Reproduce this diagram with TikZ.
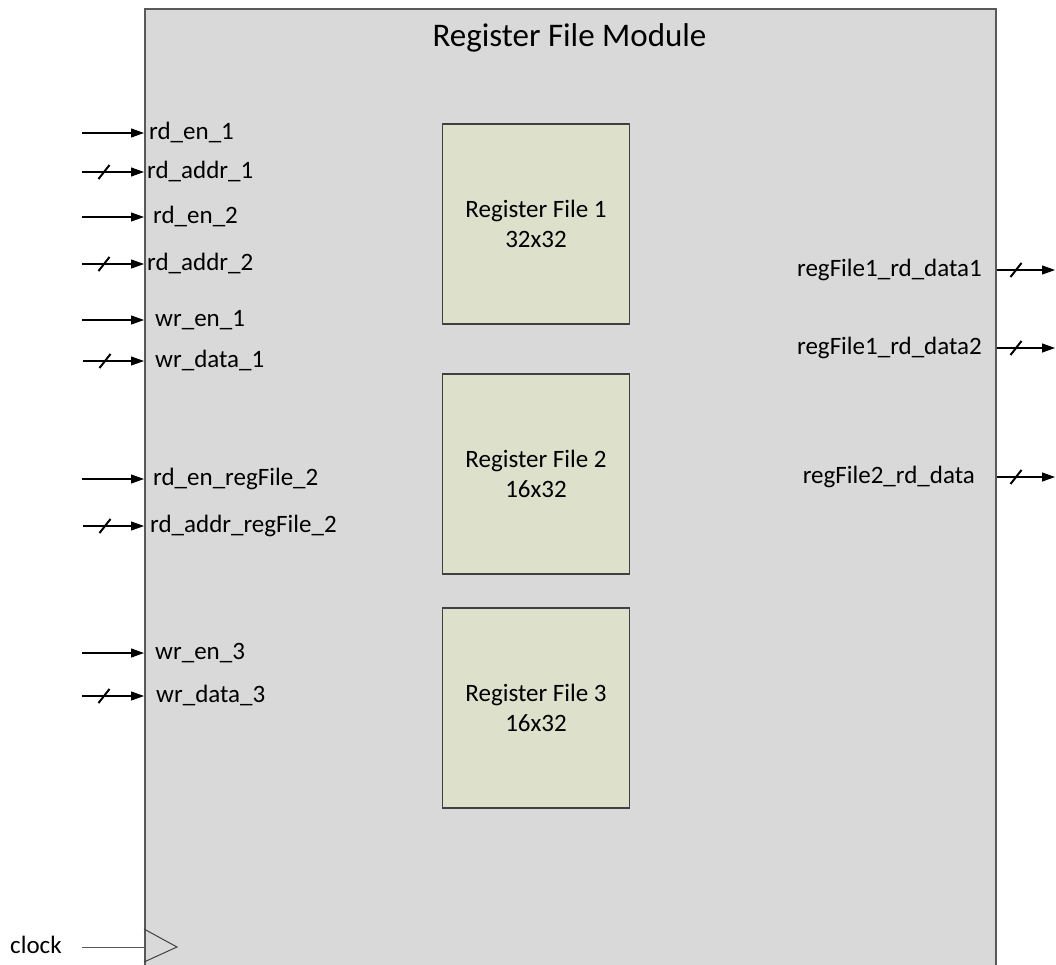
\documentclass[tikz,border=0pt]{standalone}
\usepackage{fontspec}
\setmainfont{Carlito}
\usetikzlibrary{arrows.meta}
\definecolor{modfill}{HTML}{D9D9D9}
\definecolor{modline}{HTML}{595959}
\definecolor{rffill}{HTML}{DDE0CB}
\definecolor{rfline}{HTML}{404040}
\tikzset{
  lbl/.style={inner sep=0pt, font=\fontsize{25}{30}\selectfont},
  lblin/.style={lbl, anchor=base west},
  lblout/.style={lbl, anchor=base east},
  sig/.style={line width=1.2pt, black, -{Triangle[length=13pt,width=9pt]}},
  busmark/.style={line width=2pt, black},
  rfbox/.style={draw=rfline, line width=1.3pt, fill=rffill, minimum width=187pt,
    minimum height=200pt, align=center, inner sep=0pt,
    font=\fontsize{25}{30}\selectfont},
}
% short diagonal stroke marking a multi-bit bus (argument: coordinate name)
\newcommand{\buswidth}[1]{\draw[busmark] ([shift={(-5.5,7)}]#1) -- ([shift={(5.5,-7)}]#1);}
\begin{document}
\begin{tikzpicture}[x=1pt,y=-1pt]
\useasboundingbox (0,0) rectangle (1056,964);
\clip (0,0) rectangle (1056,964);

% module outline
\node[draw=modline, line width=1.6pt, fill=modfill, anchor=north west,
  minimum width=851pt, minimum height=980pt, inner sep=0pt] (mod) at (144,8) {};
\node[lbl, font=\fontsize{33}{38}\selectfont] (title) at (569.5,38) {Register File Module};

% register file blocks
\node[rfbox] (rf1) at (536,224) {Register File 1\\32x32};
\node[rfbox] (rf2) at (536,474) {Register File 2\\16x32};
\node[rfbox] (rf3) at (536,708) {Register File 3\\16x32};

% input ports
\coordinate (i1) at (82,133);
\coordinate (i2) at (82,172);
\coordinate (i3) at (82,217);
\coordinate (i4) at (82,264);
\coordinate (i5) at (82,320);
\coordinate (i6) at (83,361);
\coordinate (i7) at (82,479);
\coordinate (i8) at (83,526);
\coordinate (i9) at (82,653);
\coordinate (i10) at (82,696);

\foreach \c in {i1,i2,i3,i4,i5,i6,i7,i8,i9,i10}
  \draw[sig] (\c) -- (\c -| mod.west);

\coordinate (b2) at (104,172);
\coordinate (b4) at (104,264);
\coordinate (b6) at (105,361);
\coordinate (b8) at (105,526);
\coordinate (b10) at (104,696);
\foreach \c in {b2,b4,b6,b8,b10} {\buswidth{\c}}

\node[lblin] (l1) at (149,139) {rd\_en\_1};
\node[lblin] (l2) at (147,178) {rd\_addr\_1};
\node[lblin] (l3) at (153,223) {rd\_en\_2};
\node[lblin] (l4) at (147,270) {rd\_addr\_2};
\node[lblin] (l5) at (155,326) {wr\_en\_1};
\node[lblin] (l6) at (155,367) {wr\_data\_1};
\node[lblin] (l7) at (153,485) {rd\_en\_regFile\_2};
\node[lblin] (l8) at (150,532) {rd\_addr\_regFile\_2};
\node[lblin] (l9) at (155,659) {wr\_en\_3};
\node[lblin] (l10) at (156,702) {wr\_data\_3};

% output ports
\coordinate (o1) at (1055,270);
\coordinate (o2) at (1055,348);
\coordinate (o3) at (1055,477);
\foreach \c in {o1,o2,o3}
  \draw[sig] (\c -| mod.east) -- (\c);
\coordinate (c1) at (1016,270);
\coordinate (c2) at (1016,348);
\coordinate (c3) at (1016,477);
\foreach \c in {c1,c2,c3} {\buswidth{\c}}

\node[lblout] (r1) at (982,276) {regFile1\_rd\_data1};
\node[lblout] (r2) at (982,354) {regFile1\_rd\_data2};
\node[lblout] (r3) at (975,483) {regFile2\_rd\_data};

% clock input with edge-trigger symbol
\node[lblin] (clk) at (10,953) {clock};
\coordinate (ck) at (82,947);
\draw[modline, line width=1pt] (ck) -- (ck -| mod.west);
\draw[rfline, line width=1pt] (144,929) -- (177,947) -- (144,962);
\end{tikzpicture}
\end{document}
